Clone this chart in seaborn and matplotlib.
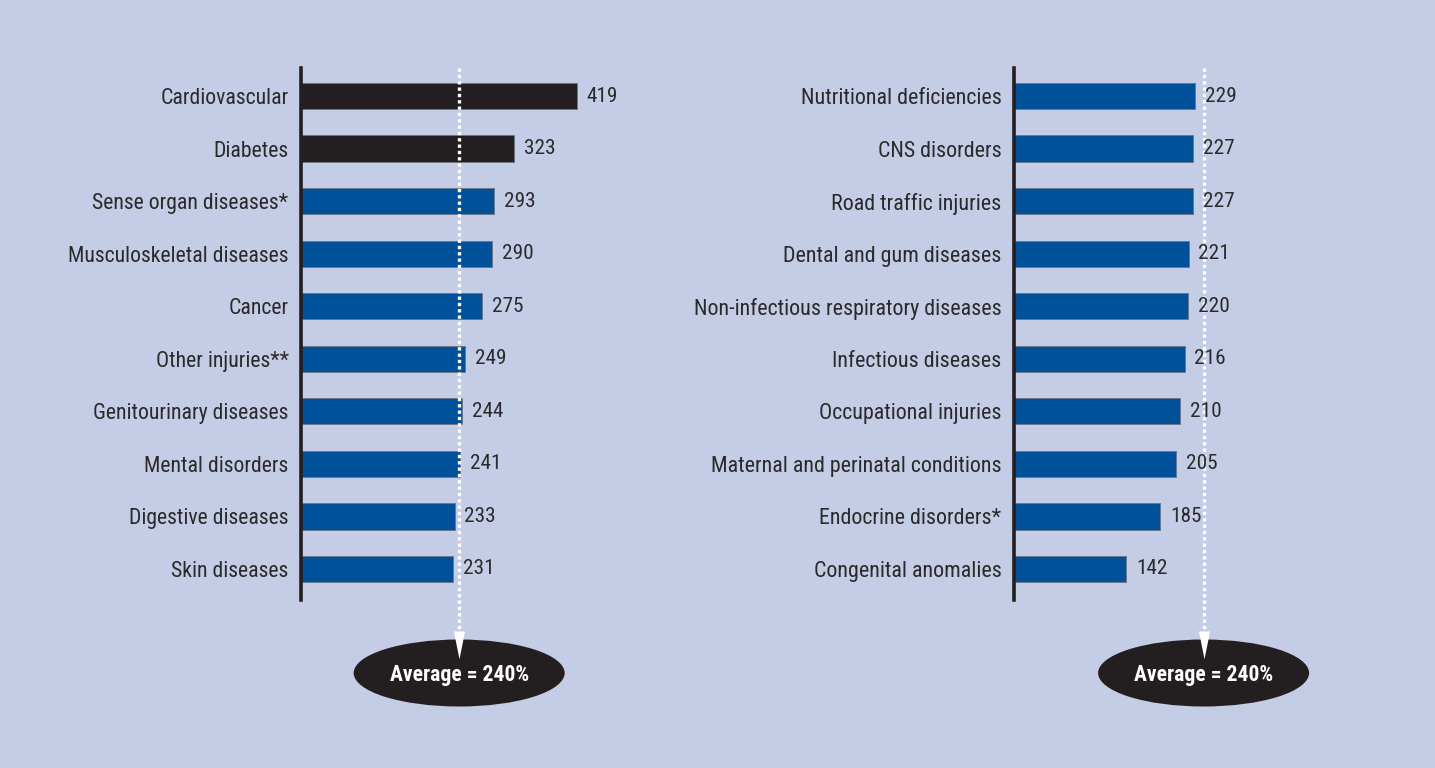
import matplotlib
matplotlib.use("Agg")
import matplotlib.pyplot as plt
import matplotlib.transforms as mtransforms
from matplotlib.patches import Ellipse
import seaborn as sns
import pandas as pd

# Percentage change by disease group, two panels
left_categories = ["Cardiovascular", "Diabetes", "Sense organ diseases*",
                   "Musculoskeletal diseases", "Cancer", "Other injuries**",
                   "Genitourinary diseases", "Mental disorders",
                   "Digestive diseases", "Skin diseases"]
left_values = [419, 323, 293, 290, 275, 249, 244, 241, 233, 231]

right_categories = ["Nutritional deficiencies", "CNS disorders",
                    "Road traffic injuries", "Dental and gum diseases",
                    "Non-infectious respiratory diseases", "Infectious diseases",
                    "Occupational injuries", "Maternal and perinatal conditions",
                    "Endocrine disorders*", "Congenital anomalies"]
right_values = [229, 227, 227, 221, 220, 216, 210, 205, 185, 142]

average_value = 240
average_label = "Average = 240%"

BG = "#C5CCE5"
DARK = "#231F20"
BLUE = "#00519A"
TEXT = "#2A2A2A"

sns.set_theme(style="white")
plt.rcParams["font.family"] = ["Roboto Condensed", "Archivo Narrow",
                               "PT Sans Narrow", "Liberation Sans Narrow",
                               "DejaVu Sans"]

W, H = 1435, 768
fig = plt.figure(figsize=(W / 100, H / 100), dpi=100)
fig.patch.set_facecolor(BG)

ax_bottom = (H - 600) / H
ax_height = 532 / H
ax_left = fig.add_axes([301 / W, ax_bottom, 0.659 * 500 / W, ax_height])
ax_right = fig.add_axes([1014 / W, ax_bottom, 0.790 * 300 / W, ax_height])

# white triangular arrow head, top edge at the marker origin
ARROW_HEAD = [(-0.2, 0.0), (0.2, 0.0), (0.0, -1.0), (-0.2, 0.0)]


def draw_panel(ax, cats, vals, colors, xmax, label_size):
    df = pd.DataFrame({"group": cats, "value": vals})
    sns.barplot(data=df, x="value", y="group", hue="group", palette=colors,
                orient="h", width=0.5, legend=False, ax=ax,
                edgecolor="#6E7380", linewidth=0.6, saturation=1)
    for cont in ax.containers:
        for t in ax.bar_label(cont, padding=7, fontsize=15.3, color=TEXT):
            t.set_zorder(8)
    ax.set_xlim(0, xmax)
    ax.set_ylim(9.59, -0.533)
    ax.set_facecolor("none")
    ax.set_xlabel("")
    ax.set_ylabel("")
    ax.set_xticks([])
    ax.tick_params(axis="y", length=0, pad=9, labelsize=label_size,
                   labelcolor=TEXT)
    for s in ["top", "right", "bottom"]:
        ax.spines[s].set_visible(False)
    ax.spines["left"].set_color(DARK)
    ax.spines["left"].set_linewidth(2.6)

    # oval with the average, below the arrow
    cx_px = ax.transData.transform((average_value, 0))[0]
    cx = cx_px / W
    cy = (H - 673) / H
    oval = Ellipse((cx, cy), 211 / W, 67 / H, transform=fig.transFigure,
                   facecolor=DARK, edgecolor="none", zorder=4, clip_on=False)
    ax.add_artist(oval)
    ax.text(cx, cy - 0.002, average_label, transform=fig.transFigure,
            ha="center", va="center", color="white", fontsize=15.6,
            fontweight="bold", zorder=7, clip_on=False)

    # dotted average marker running down into the oval
    trans = mtransforms.blended_transform_factory(ax.transData, ax.transAxes)
    y_top = 1.0
    y_line_end = (600 - 631) / 532
    ax.plot([average_value, average_value], [y_top, y_line_end], transform=trans,
            color="white", lw=2.4, linestyle=(0, (1, 0.9)), clip_on=False,
            zorder=5)
    ax.plot([average_value], [y_line_end], transform=trans, marker=ARROW_HEAD,
            markersize=40, color="white", markeredgewidth=0, linestyle="none",
            clip_on=False, zorder=6)


draw_panel(ax_left, left_categories, left_values,
           [DARK, DARK] + [BLUE] * 8, 500, 15.7)
draw_panel(ax_right, right_categories, right_values, [BLUE] * 10, 300, 15.8)

fig.savefig("out.png", dpi=100, facecolor=BG)
